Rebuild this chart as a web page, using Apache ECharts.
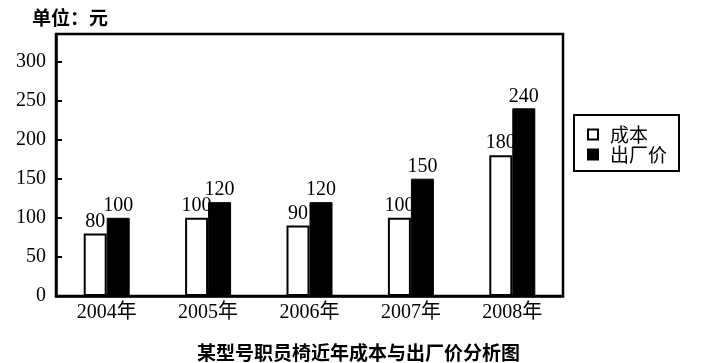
<!DOCTYPE html>
<html>
<head>
<meta charset="utf-8">
<script src="https://cdn.jsdelivr.net/npm/echarts@6/dist/echarts.min.js"></script>
<style>html,body{margin:0;padding:0;background:#fff}#c{width:717px;height:363px}</style>
</head>
<body>
<div id="c"></div>
<script>
const categories = ['2004年', '2005年', '2006年', '2007年', '2008年'];
const costValues = [80, 100, 90, 100, 180];
const priceValues = [100, 120, 120, 150, 240];
const seriesNames = ['成本', '出厂价'];
const yTicks = [0, 50, 100, 150, 200, 250, 300];

const serif = "'Liberation Serif', 'Noto Sans CJK SC', serif";
const cjk = "'Noto Sans CJK SC', sans-serif";
const chart = echarts.init(document.getElementById('c'), null, {renderer: 'canvas'});
chart.setOption({
  backgroundColor: '#fff',
  animation: false,
  title: [
    {text: '单位：元', left: 27, top: 3, textStyle: {fontFamily: cjk, fontSize: 19, fontWeight: 'bold', color: '#000'}},
    {text: '某型号职员椅近年成本与出厂价分析图', left: 'center', top: 338, textStyle: {fontFamily: cjk, fontSize: 19, fontWeight: 'bold', color: '#000'}}
  ],
  grid: {left: 56, right: 154, top: 34, bottom: 67, show: true, borderColor: '#000', borderWidth: 2.5, backgroundColor: 'transparent'},
  legend: {
    orient: 'vertical', left: 574, top: 115, data: seriesNames,
    borderColor: '#000', borderWidth: 2, padding: [10, 12, 7, 13], itemGap: 1,
    itemWidth: 10, itemHeight: 10, icon: 'rect',
    textStyle: {fontFamily: cjk, fontSize: 19, color: '#000', padding: [0, 0, 0, 7]}
  },
  xAxis: {
    type: 'category', data: categories,
    axisLine: {lineStyle: {color: '#000', width: 2.5}},
    axisTick: {inside: true, length: 8, lineStyle: {color: '#000', width: 2}},
    axisLabel: {fontFamily: serif, fontSize: 20, color: '#000', margin: 7}
  },
  yAxis: {
    type: 'value', min: 0, max: 335, interval: 50,
    splitLine: {show: false},
    axisLine: {show: true, lineStyle: {color: '#000', width: 2.5}},
    axisTick: {show: true, inside: true, length: 6, lineStyle: {color: '#000', width: 2}},
    axisLabel: {fontFamily: serif, fontSize: 20, color: '#000', margin: 10, showMaxLabel: false,
      formatter: v => yTicks.includes(v) ? String(v) : ''}
  },
  series: [
    {name: seriesNames[0], type: 'bar', data: costValues, barWidth: 23, barGap: '0%',
     itemStyle: {color: '#fff', borderColor: '#000', borderWidth: 2},
     label: {show: true, position: 'top', distance: 2, fontFamily: serif, fontSize: 20, color: '#000'}},
    {name: seriesNames[1], type: 'bar', data: priceValues, barWidth: 23, barGap: '0%',
     itemStyle: {color: '#000', borderColor: '#000', borderWidth: 1},
     label: {show: true, position: 'top', distance: 2, fontFamily: serif, fontSize: 20, color: '#000'}}
  ]
});
</script>
</body>
</html>
